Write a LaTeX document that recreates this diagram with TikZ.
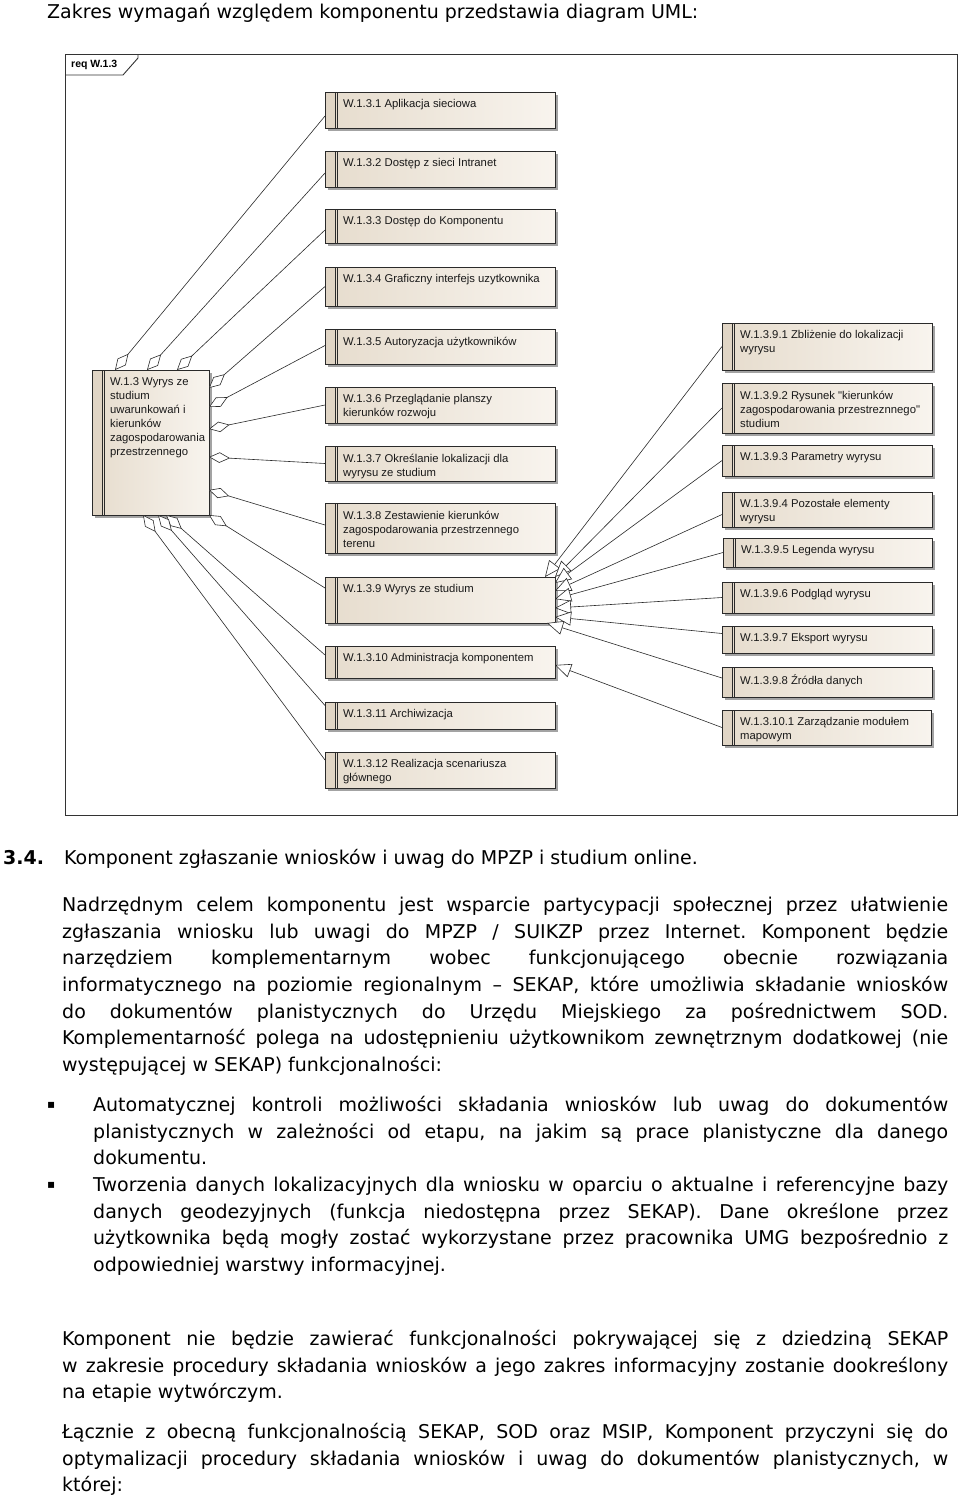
\documentclass[tikz,border=0pt]{standalone}
\usepackage{fontspec}
\setmainfont{DejaVu Sans}
\newfontfamily\boxfont{Liberation Sans}
\usetikzlibrary{arrows.meta,shadows}
\frenchspacing
\definecolor{boxL}{HTML}{E6DCCD}
\definecolor{boxR}{HTML}{F8F4EE}
\definecolor{bandc}{HTML}{E0D5C5}
\definecolor{linec}{HTML}{2A2A2A}
\tikzset{
  reqbox/.style={draw=linec, line width=0.8pt, left color=boxL, right color=boxR,
    inner sep=0pt, outer sep=0pt, anchor=north west,
    drop shadow={shadow xshift=3pt, shadow yshift=-3pt, fill=black!40, opacity=0.9},
    path picture={
      \fill[bandc] (path picture bounding box.north west) rectangle ([xshift=10pt]path picture bounding box.south west);
      \draw[linec, line width=0.7pt] ([xshift=10pt]path picture bounding box.north west) -- ([xshift=10pt]path picture bounding box.south west);
      \draw[linec, line width=0.7pt] ([xshift=12.5pt]path picture bounding box.north west) -- ([xshift=12.5pt]path picture bounding box.south west);
    }},
  boxtext/.style={anchor=north west, inner sep=0pt, align=left,
    font=\boxfont\fontsize{11.3}{14}\selectfont, text=black!90},
  agg/.style={draw=linec, line width=0.6pt, {Diamond[fill=white,length=21pt,width=10.5pt]}-},
  gen/.style={draw=linec, line width=0.6pt, -{Triangle[fill=white,length=16pt,width=14pt]}},
  body/.style={anchor=base west, inner sep=0pt, font=\fontsize{19}{26}\selectfont},
}
\newcommand\req[6]{%
  \node[reqbox, minimum width=#4pt, minimum height=#5pt] (#1) at (#2,#3) {};
  \node[boxtext] (#1t) at ([xshift=18pt,yshift=-7.5pt]#1.north west) {#6};
}
\newcommand\jl[5]{\node[body] (#1) at (#2,#3) {\makebox[#4pt][s]{#5}};}
\newcommand\nl[4]{\node[body] (#1) at (#2,#3) {#4};}
\begin{document}
\begin{tikzpicture}[x=1pt,y=-1pt]
\path[use as bounding box, fill=white] (0,0) rectangle (960,1497);

% ---------- top line
\nl{top}{47}{18}{Zakres wymagań względem komponentu przedstawia diagram UML:}

% ---------- frame
\node[draw=black!80, line width=1pt, minimum width=892pt, minimum height=761pt,
      inner sep=0pt, outer sep=0pt, anchor=north west] (frame) at (65,54) {};
\draw[black!80, line width=0.9pt] (65,75) -- (123,75) -- (138,58) -- (138,54);
\node[anchor=west, inner sep=0pt, font=\boxfont\bfseries\fontsize{10.5}{12}\selectfont] (frlabel) at (71,65) {req W.1.3};

% ---------- main requirement
\req{main}{92}{370}{117}{145}{W.1.3 Wyrys ze\\studium\\uwarunkowań i\\kierunków\\zagospodarowania\\przestrzennego}

% ---------- middle column
\req{b1}{325}{92}{230}{36}{W.1.3.1 Aplikacja sieciowa}
\req{b2}{325}{151}{230}{36}{W.1.3.2 Dostęp z sieci Intranet}
\req{b3}{325}{209}{230}{34}{W.1.3.3 Dostęp do Komponentu}
\req{b4}{325}{267}{230}{39}{W.1.3.4 Graficzny interfejs uzytkownika}
\req{b5}{325}{329}{230}{35}{W.1.3.5 Autoryzacja użytkowników}
\req{b6}{325}{387}{230}{36}{W.1.3.6 Przeglądanie planszy\\kierunków rozwoju}
\req{b7}{325}{446}{230}{35}{W.1.3.7 Określanie lokalizacji dla\\wyrysu ze studium}
\req{b8}{325}{503}{230}{50}{W.1.3.8 Zestawienie kierunków\\zagospodarowania przestrzennego\\terenu}
\req{b9}{325}{577}{230}{46}{W.1.3.9 Wyrys ze studium}
\req{b10}{325}{646}{230}{32}{W.1.3.10 Administracja komponentem}
\req{b11}{325}{702}{230}{27}{W.1.3.11 Archiwizacja}
\req{b12}{325}{752}{230}{36}{W.1.3.12 Realizacja scenariusza\\głównego}

% ---------- right column
\req{r1}{722}{323}{210}{47}{W.1.3.9.1 Zbliżenie do lokalizacji\\wyrysu}
\req{r2}{722}{383}{210}{50}{W.1.3.9.2 Rysunek "kierunków\\zagospodarowania przestreznnego"\\studium}
\req{r3}{722}{445}{210}{31}{W.1.3.9.3 Parametry wyrysu}
\req{r4}{722}{492}{210}{35}{W.1.3.9.4 Pozostałe elementy\\wyrysu}
\req{r5}{723}{538}{209}{29}{W.1.3.9.5 Legenda wyrysu}
\req{r6}{722}{582}{210}{31}{W.1.3.9.6 Podgląd wyrysu}
\req{r7}{722}{626}{210}{27}{W.1.3.9.7 Eksport wyrysu}
\req{r8}{722}{667}{210}{30}{W.1.3.9.8 Źródła danych}
\req{r10}{722}{710}{209}{35}{W.1.3.10.1 Zarządzanie modułem\\mapowym}

% ---------- aggregation connectors
\draw[agg] ([xshift=23pt]main.north west) -- ([yshift=-6pt]b1.west);
\draw[agg] ([xshift=55pt]main.north west) -- ([yshift=-4pt]b2.west);
\draw[agg] ([xshift=85pt]main.north west) -- ([yshift=-4pt]b3.west);
\draw[agg] ([yshift=-18pt]main.north east) -- (b4.west);
\draw[agg] ([yshift=-37pt]main.north east) -- ([yshift=1pt]b5.west);
\draw[agg] ([yshift=-59pt]main.north east) -- (b6.west);
\draw[agg] ([yshift=-87pt]main.north east) -- (b7.west);
\draw[agg] ([yshift=-120pt]main.north east) -- ([yshift=3pt]b8.west);
\draw[agg] (main.south east) -- ([yshift=12pt]b9.west);
\draw[agg] ([xshift=-43pt]main.south east) -- ([yshift=7pt]b10.west);
\draw[agg] ([xshift=-51pt]main.south east) -- ([yshift=10pt]b11.west);
\draw[agg] ([xshift=-66pt]main.south east) -- ([yshift=10pt]b12.west);

% ---------- generalization connectors
\draw[gen] (r1.west) -- ([xshift=-10pt]b9.north east);
\draw[gen] (r2.west) -- (b9.north east);
\draw[gen] (r3.west) -- ([yshift=-6pt]b9.north east);
\draw[gen] ([yshift=-5pt]r4.west) -- ([yshift=-14pt]b9.north east);
\draw[gen] (r5.west) -- ([yshift=-22pt]b9.north east);
\draw[gen] (r6.west) -- ([yshift=-31pt]b9.north east);
\draw[gen] ([yshift=6pt]r7.west) -- ([yshift=-40pt]b9.north east);
\draw[gen] ([yshift=4pt]r8.west) -- ([xshift=-8pt]b9.south east);
\draw[gen] (r10.west) -- ([yshift=-3pt]b10.east);

% ---------- text below
\node[body, font=\bfseries\fontsize{19}{26}\selectfont] (sec) at (3,864) {3.4.};
\nl{sect}{64}{864}{Komponent zgłaszanie wniosków i uwag do MPZP i studium online.}

\jl{p1}{62}{911}{886}{Nadrzędnym celem komponentu jest wsparcie partycypacji społecznej przez ułatwienie}
\jl{p2}{62}{938}{886}{zgłaszania wniosku lub uwagi do MPZP / SUIKZP przez Internet. Komponent będzie}
\jl{p3}{62}{964}{886}{narzędziem komplementarnym wobec funkcjonującego obecnie rozwiązania}
\jl{p4}{62}{991}{886}{informatycznego na poziomie regionalnym – SEKAP, które umożliwia składanie wniosków}
\jl{p5}{62}{1018}{886}{do dokumentów planistycznych do Urzędu Miejskiego za pośrednictwem SOD.}
\jl{p6}{62}{1044}{886}{Komplementarność polega na udostępnieniu użytkownikom zewnętrznym dodatkowej (nie}
\nl{p7}{62}{1071}{występującej w SEKAP) funkcjonalności:}

\nl{bul1}{47}{1108}{\fontsize{12}{14}\selectfont ▪}
\jl{q1}{93}{1111}{855}{Automatycznej kontroli możliwości składania wniosków lub uwag do dokumentów}
\jl{q2}{93}{1138}{855}{planistycznych w zależności od etapu, na jakim są prace planistyczne dla danego}
\nl{q3}{93}{1164}{dokumentu.}
\nl{bul2}{47}{1188}{\fontsize{12}{14}\selectfont ▪}
\jl{q4}{93}{1191}{855}{Tworzenia danych lokalizacyjnych dla wniosku w oparciu o aktualne i referencyjne bazy}
\jl{q5}{93}{1218}{855}{danych geodezyjnych (funkcja niedostępna przez SEKAP). Dane określone przez}
\jl{q6}{93}{1244}{855}{użytkownika będą mogły zostać wykorzystane przez pracownika UMG bezpośrednio z}
\nl{q7}{93}{1271}{odpowiedniej warstwy informacyjnej.}

\jl{s1}{62}{1345}{886}{Komponent nie będzie zawierać funkcjonalności pokrywającej się z dziedziną SEKAP}
\jl{s2}{62}{1372}{886}{w zakresie procedury składania wniosków a jego zakres informacyjny zostanie dookreślony}
\nl{s3}{62}{1398}{na etapie wytwórczym.}

\jl{u1}{62}{1438}{886}{Łącznie z obecną funkcjonalnością SEKAP, SOD oraz MSIP, Komponent przyczyni się do}
\jl{u2}{62}{1465}{886}{optymalizacji procedury składania wniosków i uwag do dokumentów planistycznych, w}
\nl{u3}{62}{1491}{której:}
\end{tikzpicture}
\end{document}
